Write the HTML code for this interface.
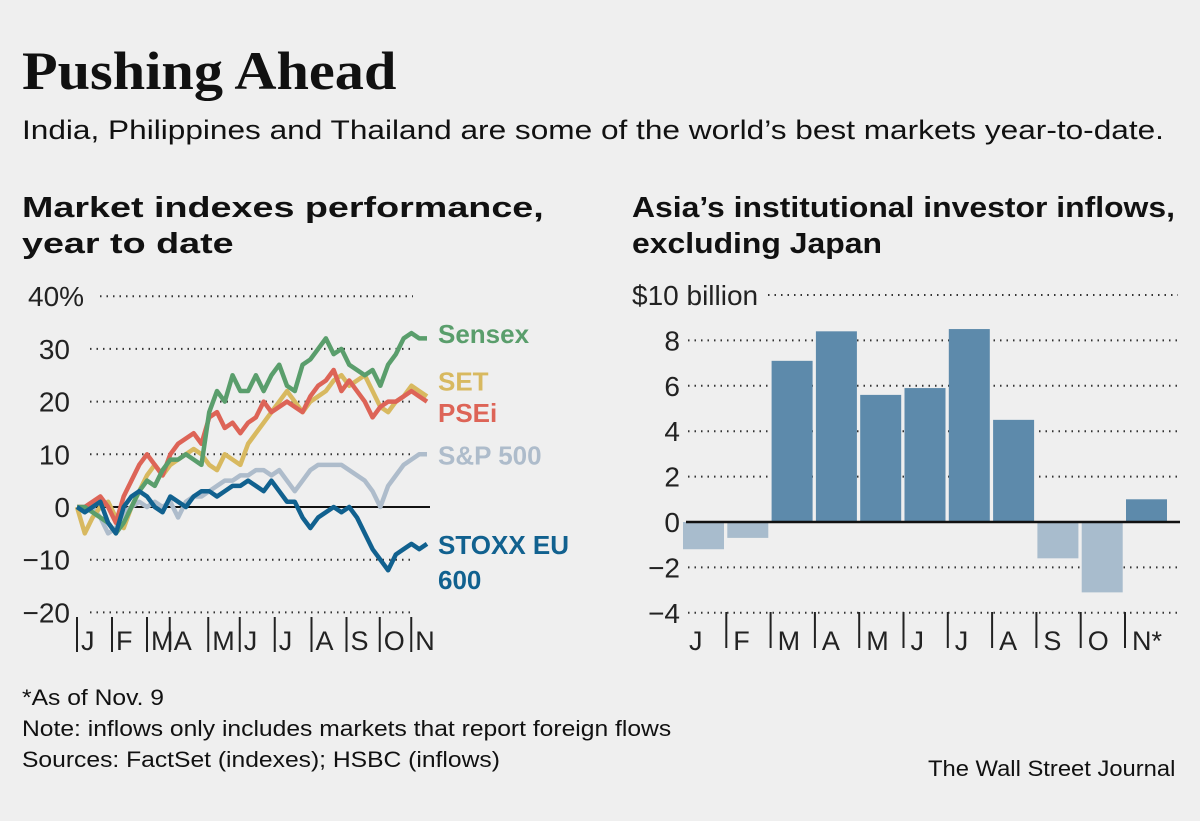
<!DOCTYPE html>
<html><head><meta charset="utf-8"><style>
body{margin:0;background:#efefef;width:1200px;height:821px;overflow:hidden;font-family:"Liberation Sans",sans-serif;color:#111}
.t{position:absolute;white-space:nowrap;transform-origin:0 0}
</style></head><body>
<div class="t" style="left:22px;top:40px;font-family:'Liberation Serif',serif;font-weight:bold;font-size:54px;transform:scaleX(1.08)">Pushing Ahead</div>
<div class="t" style="left:22px;top:115px;font-size:27px;transform:scaleX(1.17)">India, Philippines and Thailand are some of the world’s best markets year-to-date.</div>
<div class="t" style="left:22px;top:190px;font-size:29px;font-weight:bold;line-height:36px;transform:scaleX(1.3)">Market indexes performance,<br>year to date</div>
<div class="t" style="left:632px;top:190px;font-size:29px;font-weight:bold;line-height:36px;transform:scaleX(1.1)">Asia’s institutional investor inflows,<br>excluding Japan</div>
<svg id="svg" width="1200" height="821" style="position:absolute;left:0;top:0"></svg>
<div class="t" style="left:22px;top:682px;font-size:22px;line-height:31px;transform:scaleX(1.12)">*As of Nov. 9<br>Note: inflows only includes markets that report foreign flows<br>Sources: FactSet (indexes); HSBC (inflows)</div>
<div class="t" style="left:928px;top:756px;font-size:22px;transform:scaleX(1.08)">The Wall Street Journal</div>
<script>
const lineTicks=[40,30,20,10,0,-10,-20];
const months=["J","F","M","A","M","J","J","A","S","O","N"];
const sensex=[0,0,-1,-2,-3,-5,-3,0,3,5,4,7,9,9,10,9,8,18,22,20,25,22,22,25,22,25,27,23,22,27,28,30,32,29,30,27,26,25,26,23,27,29,32,33,32,32];
const setv=[0,-5,-2,0,1,-2,-4,0,3,6,8,6,8,9,10,11,10,8,7,10,9,8,12,14,16,18,20,22,20,18,20,21,22,24,25,23,24,25,22,19,18,20,21,23,22,21];
const psei=[0,0,1,2,0,-3,2,5,8,10,8,6,10,12,13,14,12,17,18,15,16,14,16,17,20,18,19,20,19,18,21,23,24,26,22,24,22,20,17,19,20,20,21,22,21,20];
const sp500=[0,-1,0,-2,-5,-4,-1,0,1,0,1,0,1,-2,1,2,2,3,4,5,5,6,6,7,7,6,7,5,3,5,7,8,8,8,8,7,6,5,3,0,4,6,8,9,10,10];
const stoxx=[0,-1,0,1,-3,-5,0,2,3,2,0,-1,2,1,0,2,3,3,2,3,4,4,5,4,3,5,3,1,1,-2,-4,-2,-1,0,-1,0,-2,-5,-8,-10,-12,-9,-8,-7,-8,-7];
const barTicks=[10,8,6,4,2,0,-2,-4];
const barMonths=["J","F","M","A","M","J","J","A","S","O","N"];
const inflows=[-1.2,-0.7,7.1,8.4,5.6,5.9,8.5,4.5,-1.6,-3.1,1.0];

const S=document.getElementById('svg');const NS='http://www.w3.org/2000/svg';
function mk(t,a,p){const e=document.createElementNS(NS,t);for(const k in a)e.setAttribute(k,a[k]);(p||S).appendChild(e);return e;}
const ly=v=>507-v*5.27;
const lx=i=>77+i*(427-77)/(sensex.length-1);
lineTicks.forEach(v=>{
 const g=mk('line',{x1:v==0?77:(v==40?100:90),x2:v==0?430:413,y1:ly(v),y2:ly(v),stroke:v==0?'#111':'#333','stroke-width':2,'stroke-dasharray':v==0?'none':'1.5 5'});
 
 
 const t=mk('text',{x:v==40?28:70,y:ly(v)+10,'font-size':28,'text-anchor':v==40?'start':'end',fill:'#222'});
 t.textContent=v==40?'40%':(v<0?'−'+(-v):v);
 
 
});
const mpos=[0,0.1,0.2,0.265,0.375,0.465,0.565,0.67,0.77,0.865,0.955];
months.forEach((m,i)=>{const x=77+mpos[i]*(427-77);
 const l=mk('line',{x1:x,x2:x,y1:617,y2:652,stroke:'#222','stroke-width':2});
 
 
 const t=mk('text',{x:x+4,y:650,'font-size':27,fill:'#222'});t.textContent=m;
 
 
});
const series=[[sp500,'#aebccb','S&P 500',ly(10)+10],[setv,'#d8b960','SET',ly(24)+10],[psei,'#dd6457','PSEi',ly(18)+10],[sensex,'#5a9e6c','Sensex',ly(33)+10],[stoxx,'#11618f','STOXX EU',ly(-7)+10]];
series.forEach(([d,c,n,ty])=>{
 const p=mk('polyline',{points:d.map((v,i)=>lx(i)+','+ly(v)).join(' '),fill:'none',stroke:c,'stroke-width':4.5,'stroke-linejoin':'round'});
 
 
 const t=mk('text',{x:438,y:ty,'font-size':26,'font-weight':'bold',fill:c});t.textContent=n;
 
 
});
const t6=mk('text',{x:438,y:ly(-7)+45,'font-size':26,'font-weight':'bold',fill:'#11618f'});t6.textContent='600';


const by=v=>522-v*22.7;
const bx=i=>683+i*44.3;
barTicks.forEach(v=>{
 const l=mk('line',{x1:v==10?768:688,x2:1178,y1:by(v),y2:by(v),stroke:'#333','stroke-width':2,'stroke-dasharray':'1.5 5'});
 
 
 const t=mk('text',{x:v==10?632:680,y:by(v)+10,'font-size':28,'text-anchor':v==10?'start':'end',fill:'#222'});
 t.textContent=v==10?'$10 billion':(v<0?'−'+(-v):v);
 
 
});
inflows.forEach((v,i)=>{
 const r=mk('rect',{x:bx(i),y:Math.min(by(v),by(0)),width:41,height:Math.abs(by(v)-by(0)),fill:v>=0?'#5d8aab':'#a8bccd'});
 
 
 if(i>0){const l=mk('line',{x1:bx(i)-1,x2:bx(i)-1,y1:612,y2:648,stroke:'#222','stroke-width':2});
 
 }
 const t=mk('text',{x:bx(i)+6,y:650,'font-size':27,fill:'#222'});t.textContent=barMonths[i]+(i==10?'*':'');
 
 
});
const z=mk('line',{x1:686,x2:1180,y1:by(0),y2:by(0),stroke:'#111','stroke-width':2.5});


</script>
</body></html>
